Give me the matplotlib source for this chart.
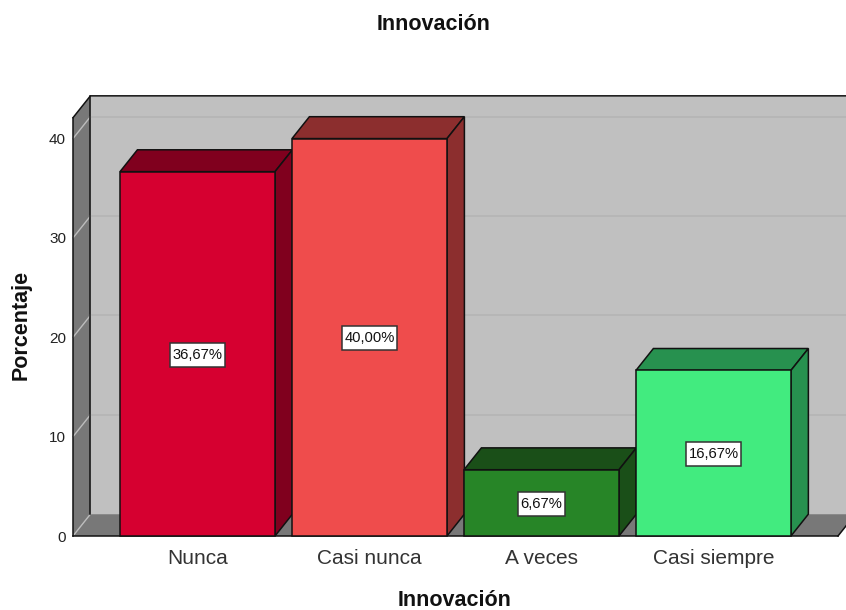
import matplotlib
matplotlib.use("Agg")
import matplotlib.pyplot as plt
from matplotlib.patches import Polygon
from matplotlib.path import Path

plt.rcParams['font.family'] = ['Liberation Sans', 'DejaVu Sans']

categories = ["Nunca", "Casi nunca", "A veces", "Casi siempre"]
values = [36.67, 40.00, 6.67, 16.67]
value_labels = ["36,67%", "40,00%", "6,67%", "16,67%"]
y_ticks = [0, 10, 20, 30, 40]
front_colors = ["#D60030", "#EF4C4C", "#278527", "#42EB7F"]
side_colors = ["#80001E", "#8C2E2E", "#1A4F18", "#27914F"]

W, H = 846, 610
fig = plt.figure(figsize=(W / 100, H / 100), dpi=100, facecolor="white")
ax = fig.add_axes([73 / W, 1 - 536 / H, (838 - 73) / W, (536 - 117.7) / H])
xmin, xmax = -0.724, 3.724
ymax = 42.1
ax.set_xlim(xmin, xmax)
ax.set_ylim(0, ymax)
for s in ax.spines.values():
    s.set_visible(False)
ax.patch.set_visible(False)

dx = 17.4 / 172
dy = 2.2
bar_w = 155 / 172
EDGE = "#111111"
LW = 1.1


def label_box(x0, y0, width, height, mutation_size):
    """Label frame with more room above and below the text than beside it."""
    px, py = 0.15 * mutation_size, 0.34 * mutation_size
    l, b, r, t = x0 - px, y0 - py, x0 + width + px, y0 + height + py
    return Path([(l, b), (r, b), (r, t), (l, t), (l, b)], closed=True)


def poly(pts, fc, ec="none", lw=0, z=1):
    ax.add_patch(Polygon(pts, closed=True, facecolor=fc, edgecolor=ec, linewidth=lw,
                         zorder=z, clip_on=False, joinstyle="miter"))


# back wall, side wall, floor
poly([(xmin + dx, dy), (xmax + dx, dy), (xmax + dx, ymax + dy), (xmin + dx, ymax + dy)], "#C0C0C0")
poly([(xmin, 0), (xmin + dx, dy), (xmin + dx, ymax + dy), (xmin, ymax)], "#787878")
poly([(xmin, 0), (xmax, 0), (xmax + dx, dy), (xmin + dx, dy)], "#787878")

for t in y_ticks:
    if t > 0:
        ax.plot([xmin + dx, xmax + dx], [t + dy, t + dy], color="#B4B4B4", lw=1.2, zorder=1.5, clip_on=False)
    ax.plot([xmin, xmin + dx], [t, t + dy], color="#BDBDBD", lw=1.0, zorder=1.5, clip_on=False)

ax.plot([xmin + dx, xmin + dx], [dy, ymax + dy], color=EDGE, lw=LW, zorder=1.6, clip_on=False)
ax.plot([xmin, xmin], [0, ymax], color=EDGE, lw=LW, zorder=1.6, clip_on=False)
ax.plot([xmin, xmin + dx, xmax + dx], [ymax, ymax + dy, ymax + dy], color=EDGE, lw=LW, zorder=1.6, clip_on=False)
ax.plot([xmin, xmax], [0, 0], color=EDGE, lw=LW, zorder=1.6, clip_on=False)
ax.plot([xmax, xmax + dx], [0, dy], color=EDGE, lw=LW, zorder=1.6, clip_on=False)

# 3D bars, left to right so that each one covers the side of the previous one
for i, (v, fc, sc, lab) in enumerate(zip(values, front_colors, side_colors, value_labels)):
    z = 2 + i
    l, r = i - bar_w / 2, i + bar_w / 2
    poly([(l, v), (r, v), (r + dx, v + dy), (l + dx, v + dy)], sc, EDGE, LW, z)
    poly([(r, 0), (r + dx, dy), (r + dx, v + dy), (r, v)], sc, EDGE, LW, z)
    ax.bar(i, v, width=bar_w, color=fc, edgecolor=EDGE, linewidth=LW, zorder=z + 0.1, clip_on=False)
    ax.text(i, v / 2 - 0.1, lab, ha="center", va="center", fontsize=10.6, color="#111111", zorder=z + 0.2,
            bbox=dict(boxstyle=label_box, facecolor="white", edgecolor="#333333", linewidth=1.1))

ax.set_xticks(range(len(categories)))
ax.set_xticklabels(categories, fontsize=15, color="#333333")
ax.set_yticks(y_ticks)
ax.set_yticklabels([str(t) for t in y_ticks], fontsize=11, color="#222222")
ax.tick_params(axis="x", length=0, pad=9)
ax.tick_params(axis="y", length=0, pad=5)

fig.text(434 / W, 1 - 25 / H, "Innovación", ha="center", va="center", fontsize=15.5, fontweight="bold", color="#111111")
fig.text(455 / W, 1 - 601 / H, "Innovación", ha="center", va="center", fontsize=15.5, fontweight="bold", color="#111111")
fig.text(21 / W, 1 - 325 / H, "Porcentaje", ha="center", va="center", rotation=90, fontsize=15.5, fontweight="bold", color="#111111")

fig.savefig("out.png", dpi=100)
